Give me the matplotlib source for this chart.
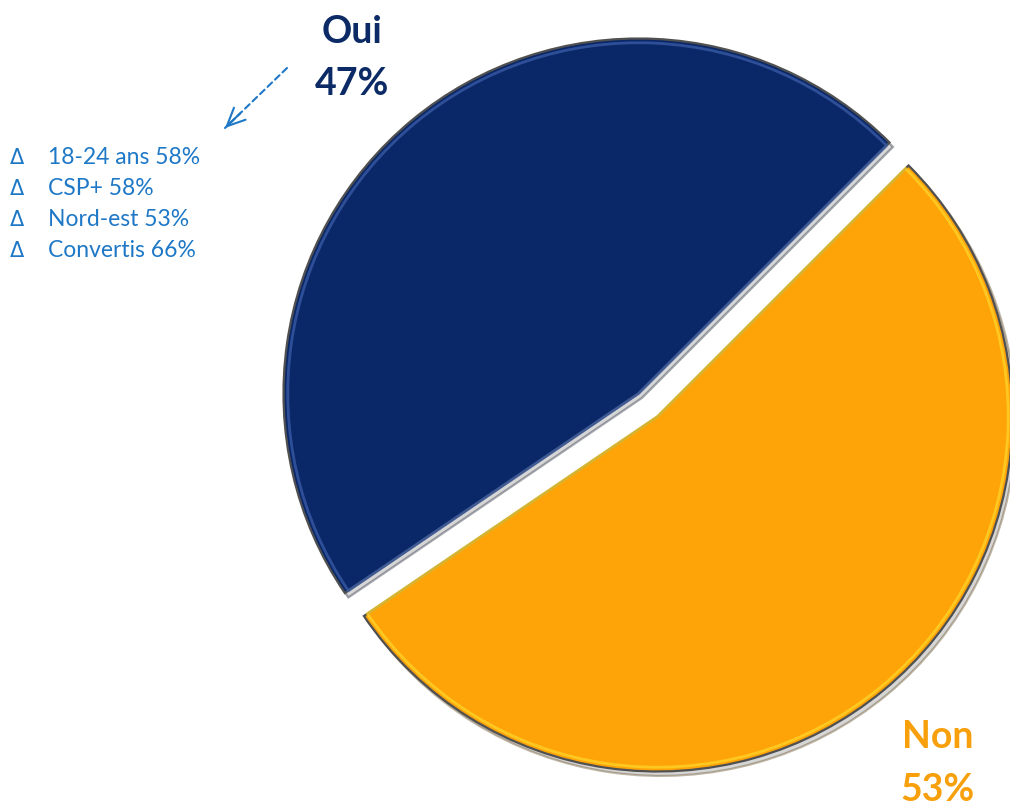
import matplotlib
matplotlib.use("Agg")
import matplotlib.pyplot as plt
from matplotlib.patches import FancyArrowPatch

# ---- data ----
categories = ["Oui", "Non"]
values = [47, 53]
pct_labels = ["47%", "53%"]
detail_items = ["18-24 ans 58%", "CSP+ 58%", "Nord-est 53%", "Convertis 66%"]

# ---- style ----
slice_colors = ["#0A2868", "#FEA408"]
highlight_colors = ["#3B5DA8", "#FFD52A"]
label_colors = ["#0B2A66", "#F7A00C"]
detail_color = "#1E78C6"

W, H = 1010, 805
fig = plt.figure(figsize=(W / 100, H / 100), dpi=100)
ax = fig.add_axes([0, 0, 1, 1])
ax.set_aspect("equal")
ax.axis("off")

cx, cy, R = 648, 405, 355  # pie centre / radius in pixels

explode = [0.042, 0.042]

# main pie with soft shadow and dark outline
ax.pie(values, colors=slice_colors, startangle=45, counterclock=True,
       explode=explode, radius=1.0,
       shadow={"ox": 0.007, "oy": -0.009, "facecolor": "#8a8a8a", "alpha": 0.35},
       wedgeprops=dict(edgecolor="#505050", linewidth=1.6))

# bevel highlight (slightly inset outline)
wedges, _ = ax.pie(values, colors=["none", "none"], startangle=45,
                   counterclock=True, explode=explode, radius=0.988,
                   wedgeprops=dict(linewidth=2.0, fill=False))
for w, hc in zip(wedges, highlight_colors):
    w.set_edgecolor(hc)
    w.set_alpha(0.75)

ax.set_xlim((0 - cx) / R, (W - cx) / R)
ax.set_ylim((cy - H) / R, (cy - 0) / R)

font = "Lato"

# main labels
fig.text(352 / W, 1 - 43 / H, categories[0], ha="center", va="baseline",
         fontsize=27, fontweight="bold", color=label_colors[0], family=font)
fig.text(352 / W, 1 - 95 / H, pct_labels[0], ha="center", va="baseline",
         fontsize=27, fontweight="bold", color=label_colors[0], family=font)
fig.text(938 / W, 1 - 748 / H, categories[1], ha="center", va="baseline",
         fontsize=27, fontweight="bold", color=label_colors[1], family=font)
fig.text(938 / W, 1 - 801 / H, pct_labels[1], ha="center", va="baseline",
         fontsize=27, fontweight="bold", color=label_colors[1], family=font)

# detail list
for i, item in enumerate(detail_items):
    yb = 164 + i * 31
    fig.text(10 / W, 1 - yb / H, "\u0394", ha="left", va="baseline",
             fontsize=15, color=detail_color, family=["DejaVu Sans"])
    fig.text(48 / W, 1 - yb / H, item, ha="left", va="baseline",
             fontsize=16.5, color=detail_color, family=font)

# dashed arrow
start = (287 / W, 1 - 68 / H)
end = (225 / W, 1 - 128 / H)
fig.add_artist(FancyArrowPatch(
    start, end, transform=fig.transFigure, arrowstyle="-",
    linestyle=(0, (3, 2)), linewidth=1.5, color=detail_color,
    shrinkA=0, shrinkB=0))
head_from = (240 / W, 1 - 113.5 / H)
fig.add_artist(FancyArrowPatch(
    head_from, end, transform=fig.transFigure,
    arrowstyle="->,head_length=1.3,head_width=0.6",
    linewidth=1.5, color=detail_color, mutation_scale=10,
    shrinkA=0, shrinkB=0))

fig.savefig("out.png", dpi=100, facecolor="white")
